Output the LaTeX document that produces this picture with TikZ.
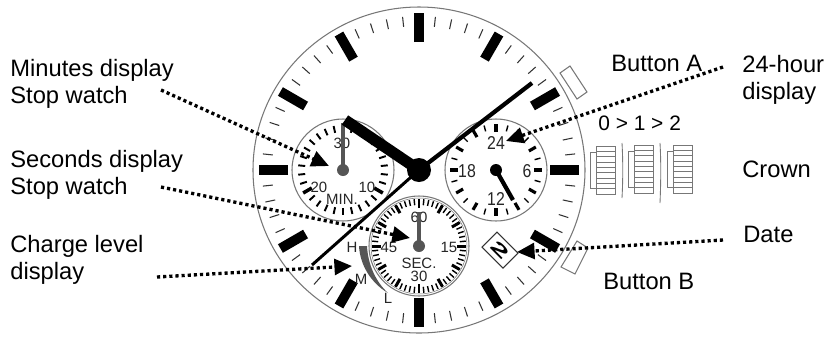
\documentclass[tikz,border=0pt]{standalone}
\usepackage{fontspec}
\setmainfont{Liberation Sans}
\usetikzlibrary{arrows.meta}
\definecolor{ringgray}{HTML}{777777}
\definecolor{handgray}{HTML}{555555}
\tikzset{
	calltext/.style={anchor=base west, align=left, inner sep=0pt, font=\fontsize{13.5}{15.3}\selectfont},
	dialtext/.style={font=\fontsize{8.5}{9}\selectfont, text=black!85},
	tall/.style={font=\fontsize{10.6}{11}\selectfont, xscale=.85, text=black!85},
	ring/.style={draw=ringgray, line width=0.6pt},
	pointer/.style={line width=1.9pt, dash pattern=on 1.8pt off 1.7pt, -{Triangle[length=10pt, width=9pt]}},
	crownline/.style={draw=ringgray, line width=0.5pt}
}
\begin{document}
\begin{tikzpicture}[x=0.02cm, y=-0.02cm]
	\useasboundingbox (0,0) rectangle (826,336);

	% Dial and buttons
	\draw[ring, fill=white] (419,170) ellipse [x radius=166, y radius=163];
	\draw[ring] (560,73) -- (570,66) -- (587,92) -- (577,99) -- cycle;
	\draw[ring] (561,267) -- (575,274) -- (588,248) -- (577,241) -- cycle;

	% Hour marks and minute marks
	\foreach \a in {0,6,...,354}
		\draw[line width=0.6pt, black!80] ({419+147*sin(\a)}, {170-144*cos(\a)}) -- ({419+157*sin(\a)}, {170-154*cos(\a)});
	\foreach \a in {0,30,...,330}
		\draw[line width=5.6pt] ({419+131*sin(\a)}, {170-128*cos(\a)}) -- ({419+160*sin(\a)}, {170-157*cos(\a)});

	% Minutes subdial
	\draw[ring, fill=white] (343,170) circle (51);
	\foreach \a in {0,12,...,348}
		\draw[line width=1.1pt] ({343+38*sin(\a)}, {170-38*cos(\a)}) -- ({343+45*sin(\a)}, {170-45*cos(\a)});
	\foreach \a in {120,240}
		\draw[line width=2pt] ({343+36*sin(\a)}, {170-36*cos(\a)}) -- ({343+46*sin(\a)}, {170-46*cos(\a)});
	\node[dialtext] (minThirty) at (342,143) {30};
	\node[dialtext] (minTwenty) at (319,187) {20};
	\node[dialtext] (minTen) at (367,187) {10};
	\node[dialtext] (minName) at (342,199) {MIN.};
	\draw[handgray, line width=2.3pt] (343,170) -- (343,123);
	\fill[handgray] (343,170) circle (6);

	% 24-hour subdial
	\draw[ring, fill=white] (496,170) circle (51);
	\foreach \a in {15,45,...,345}
		\draw[line width=0.8pt] ({496+40*sin(\a)}, {170-40*cos(\a)}) -- ({496+46*sin(\a)}, {170-46*cos(\a)});
	\foreach \a in {0,30,...,330}
		\draw[line width=1.8pt] ({496+38*sin(\a)}, {170-38*cos(\a)}) -- ({496+46*sin(\a)}, {170-46*cos(\a)});
	\node[tall] (hourTop) at (496,143) {24};
	\node[tall] (hourLeft) at (467,171) {18};
	\node[tall] (hourRight) at (527,171) {6};
	\node[tall] (hourBottom) at (496,199) {12};
	\draw[line width=2.4pt] (496,170) -- (513,200);
	\fill (496,170) circle (6);

	% Seconds subdial
	\draw[ring, fill=white] (419,246) circle (50);
	\draw[ringgray, line width=0.3pt] (419,246) circle (48);
	\foreach \a in {0,6,...,354}
		\draw[line width=0.8pt] ({419+41*sin(\a)}, {246-41*cos(\a)}) -- ({419+47*sin(\a)}, {246-47*cos(\a)});
	\foreach \a in {0,30,...,330}
		\draw[line width=1.7pt] ({419+38*sin(\a)}, {246-38*cos(\a)}) -- ({419+47*sin(\a)}, {246-47*cos(\a)});
	\node[dialtext] (secTop) at (419,217) {60};
	\node[dialtext] (secLeft) at (389,247) {45};
	\node[dialtext] (secRight) at (449,247) {15};
	\node[dialtext] (secName) at (419,263) {SEC.};
	\node[dialtext] (secBottom) at (419,276) {30};
	\draw[handgray, line width=2.3pt] (419,246) -- (419,212);
	\fill[handgray] (419,246) circle (6);

	% Charge level
	\fill[handgray] (359,246) -- (367,246) .. controls (368,265) and (376,282) .. (388,293) .. controls (371,283) and (360,265) .. (359,246) -- cycle;
	\node[dialtext] (levelHigh) at (352,247) {H};
	\node[dialtext] (levelMid) at (361,279) {M};
	\node[dialtext] (levelLow) at (388,298) {L};

	% Date window
	\draw[black!80, line width=0.6pt, fill=white] (482,247) -- (497,232) -- (518,253) -- (503,268) -- cycle;
	\node[font=\fontsize{9.5}{10}\selectfont\bfseries, rotate=-45, xscale=2, inner sep=0pt] (dateDigit) at (500,250) {2};

	% Main hands
	\coordinate (hub) at (419,170);
	\draw[line width=6.4pt] (hub) -- (345,120);
	\draw[line width=2.4pt] (hub) -- (532,83);
	\draw[line width=1.7pt] (hub) -- (312,265);
	\fill (hub) circle (12);

	% Crown positions
	\foreach \cx/\cy in {590/146, 628/145, 667/145} {
		\draw[crownline] (\cx,\cy+6) rectangle (\cx+6,\cy+42);
		\draw[crownline, fill=white] (\cx+6,\cy) rectangle (\cx+25,\cy+48);
		\foreach \i in {1,...,8}
			\draw[crownline] (\cx+6,\cy+\i*5.33) -- (\cx+25,\cy+\i*5.33);
	}
	\draw[crownline] (622,143) .. controls (623,160) and (623,180) .. (622,198);
	\draw[crownline] (660,143) .. controls (661,160) and (661,180) .. (660,203);

	% Texts
	\node[calltext] (minLabel) at (10,103) {Minutes display\\Stop watch};
	\node[calltext] (secLabel) at (10,194) {Seconds display\\Stop watch};
	\node[calltext] (chargeLabel) at (10,279) {Charge level\\display};
	\node[calltext] (btnALabel) at (611,71) {Button A};
	\node[calltext] (hourLabel) at (742,99) {24-hour\\display};
	\node[calltext] (crownLabel) at (742,177) {Crown};
	\node[calltext] (dateLabel) at (743,242) {Date};
	\node[calltext] (btnBLabel) at (603,289) {Button B};
	\node[anchor=base west, inner sep=0pt, font=\fontsize{11.9}{13}\selectfont] (crownSteps) at (598,130) {0 > 1 > 2};

	% Pointers
	\coordinate (minStart) at (161,90);
	\coordinate (minTip) at (329,166);
	\coordinate (secStart) at (161,187);
	\coordinate (secTip) at (410,238);
	\coordinate (chargeStart) at (157,277);
	\coordinate (chargeTip) at (352,266);
	\coordinate (dateStart) at (723,240);
	\coordinate (dateTip) at (517,252);
	\coordinate (hourStart) at (723,67);
	\coordinate (hourTip) at (506,141);
	\draw[pointer] (minStart) -- (minTip);
	\draw[pointer] (secStart) -- (secTip);
	\draw[pointer] (chargeStart) -- (chargeTip);
	\draw[pointer] (dateStart) -- (dateTip);
	\draw[pointer] (hourStart) -- (hourTip);
\end{tikzpicture}
\end{document}
